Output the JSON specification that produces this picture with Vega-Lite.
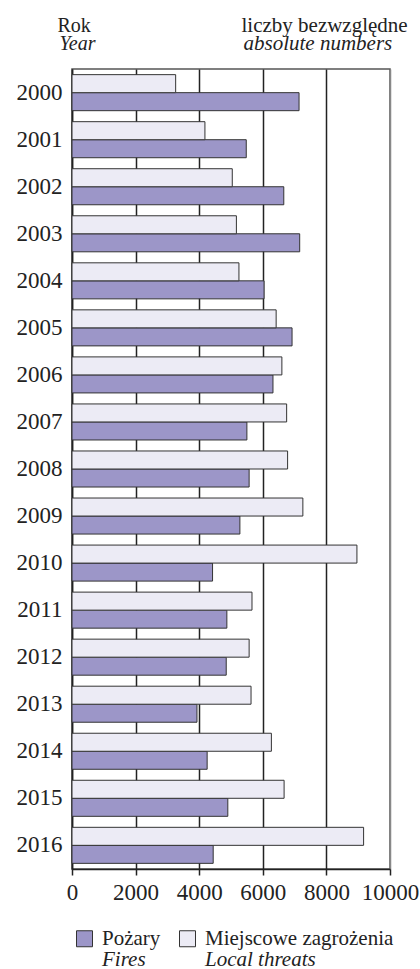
{
  "$schema": "https://vega.github.io/schema/vega-lite/v6.json",
  "width": 318,
  "height": 800,
  "autosize": {"type": "none"},
  "padding": {"left": 72, "top": 69, "right": 30, "bottom": 100},
  "background": "white",
  "config": {
    "font": "Liberation Serif, Times New Roman, serif",
    "axis": {"labelFont": "Liberation Serif, Times New Roman, serif", "titleFont": "Liberation Serif, Times New Roman, serif"},
    "legend": {"labelFont": "Liberation Serif, Times New Roman, serif", "titleFont": "Liberation Serif, Times New Roman, serif"},
    "view": {"stroke": "#555", "strokeWidth": 1.5}
  },
  "data": {
    "values": [
      {"Rok": "2000", "Rodzaj": "Pożary", "Liczba": 7140},
      {"Rok": "2000", "Rodzaj": "Miejscowe zagrożenia", "Liczba": 3260},
      {"Rok": "2001", "Rodzaj": "Pożary", "Liczba": 5480},
      {"Rok": "2001", "Rodzaj": "Miejscowe zagrożenia", "Liczba": 4180},
      {"Rok": "2002", "Rodzaj": "Pożary", "Liczba": 6660},
      {"Rok": "2002", "Rodzaj": "Miejscowe zagrożenia", "Liczba": 5040},
      {"Rok": "2003", "Rodzaj": "Pożary", "Liczba": 7160},
      {"Rok": "2003", "Rodzaj": "Miejscowe zagrożenia", "Liczba": 5170},
      {"Rok": "2004", "Rodzaj": "Pożary", "Liczba": 6040},
      {"Rok": "2004", "Rodzaj": "Miejscowe zagrożenia", "Liczba": 5250},
      {"Rok": "2005", "Rodzaj": "Pożary", "Liczba": 6920},
      {"Rok": "2005", "Rodzaj": "Miejscowe zagrożenia", "Liczba": 6420},
      {"Rok": "2006", "Rodzaj": "Pożary", "Liczba": 6320},
      {"Rok": "2006", "Rodzaj": "Miejscowe zagrożenia", "Liczba": 6600},
      {"Rok": "2007", "Rodzaj": "Pożary", "Liczba": 5500},
      {"Rok": "2007", "Rodzaj": "Miejscowe zagrożenia", "Liczba": 6750},
      {"Rok": "2008", "Rodzaj": "Pożary", "Liczba": 5570},
      {"Rok": "2008", "Rodzaj": "Miejscowe zagrożenia", "Liczba": 6780},
      {"Rok": "2009", "Rodzaj": "Pożary", "Liczba": 5280},
      {"Rok": "2009", "Rodzaj": "Miejscowe zagrożenia", "Liczba": 7260},
      {"Rok": "2010", "Rodzaj": "Pożary", "Liczba": 4420},
      {"Rok": "2010", "Rodzaj": "Miejscowe zagrożenia", "Liczba": 8960},
      {"Rok": "2011", "Rodzaj": "Pożary", "Liczba": 4870},
      {"Rok": "2011", "Rodzaj": "Miejscowe zagrożenia", "Liczba": 5660},
      {"Rok": "2012", "Rodzaj": "Pożary", "Liczba": 4850},
      {"Rok": "2012", "Rodzaj": "Miejscowe zagrożenia", "Liczba": 5570},
      {"Rok": "2013", "Rodzaj": "Pożary", "Liczba": 3930},
      {"Rok": "2013", "Rodzaj": "Miejscowe zagrożenia", "Liczba": 5630},
      {"Rok": "2014", "Rodzaj": "Pożary", "Liczba": 4250},
      {"Rok": "2014", "Rodzaj": "Miejscowe zagrożenia", "Liczba": 6270},
      {"Rok": "2015", "Rodzaj": "Pożary", "Liczba": 4900},
      {"Rok": "2015", "Rodzaj": "Miejscowe zagrożenia", "Liczba": 6670},
      {"Rok": "2016", "Rodzaj": "Pożary", "Liczba": 4440},
      {"Rok": "2016", "Rodzaj": "Miejscowe zagrożenia", "Liczba": 9170}
    ]
  },
  "resolve": {"axis": {"x": "independent", "y": "independent"}},
  "layer": [
    {
      "mark": {"type": "bar", "stroke": "#333", "strokeWidth": 1},
      "encoding": {
        "y": {
          "field": "Rok",
          "type": "nominal",
          "scale": {"paddingInner": 0.234, "paddingOuter": 0.12},
          "axis": {
            "orient": "left",
            "title": "Rok",
            "titleAngle": 0,
            "titleAlign": "left",
            "titleBaseline": "alphabetic",
            "titleAnchor": null,
            "titleX": -15,
            "titleY": -38,
            "titleFontSize": 20,
            "titleFontWeight": "normal",
            "titleColor": "#222",
            "labelFontSize": 23,
            "labelColor": "#222",
            "labelPadding": 10,
            "ticks": false,
            "domainColor": "#222",
            "domainWidth": 1.5
          }
        },
        "yOffset": {"field": "Rodzaj", "type": "nominal", "sort": ["Miejscowe zagrożenia", "Pożary"]},
        "x": {
          "field": "Liczba",
          "type": "quantitative",
          "scale": {"domain": [0, 10000], "nice": false},
          "axis": {
            "orient": "bottom",
            "values": [0, 2000, 4000, 6000, 8000, 10000],
            "format": "d",
            "title": "Year",
            "titleFontStyle": "italic",
            "titleFontSize": 20,
            "titleFontWeight": "normal",
            "titleColor": "#222",
            "titleAlign": "left",
            "titleBaseline": "alphabetic",
            "titleAnchor": null,
            "titleAngle": 0,
            "titleX": -13,
            "titleY": -820,
            "grid": true,
            "gridColor": {"condition": {"test": "datum.value === 10000", "value": "#888"}, "value": "#222"},
            "gridWidth": 1.5,
            "gridOpacity": 1,
            "tickSize": 6,
            "tickColor": "#222",
            "tickWidth": 1.5,
            "domainColor": "#222",
            "domainWidth": 1.5,
            "labelFontSize": 23,
            "labelColor": "#222",
            "labelPadding": 6,
            "labelFlush": false
          }
        },
        "color": {
          "field": "Rodzaj",
          "type": "nominal",
          "scale": {
            "domain": ["Pożary", "Miejscowe zagrożenia", "Fires", "Local threats"],
            "range": ["#9c96c8", "#ecebf5", "#ffffff", "#ffffff"]
          },
          "legend": {
            "orient": "none",
            "legendX": 2,
            "legendY": 859,
            "direction": "horizontal",
            "columns": 2,
            "title": null,
            "padding": 0,
            "symbolType": "square",
            "symbolSize": 256,
            "symbolStrokeColor": "#333",
            "symbolStrokeWidth": 1,
            "labelFontSize": 21,
            "labelColor": "#222",
            "labelOffset": 7,
            "labelLimit": 300,
            "columnPadding": 16,
            "rowPadding": -3,
            "labelFontStyle": {"expr": "indexof(['Fires','Local threats'], datum.value) >= 0 ? 'italic' : 'normal'"},
            "symbolOpacity": {"expr": "indexof(['Fires','Local threats'], datum.value) >= 0 ? 0 : 1"}
          }
        }
      }
    },
    {
      "mark": {"type": "rule", "opacity": 0},
      "encoding": {
        "x": {
          "field": "Liczba",
          "type": "quantitative",
          "scale": {"domain": [0, 10000], "nice": false},
          "axis": {
            "orient": "top",
            "labels": false,
            "ticks": false,
            "domain": false,
            "grid": false,
            "title": "liczby bezwzględne",
            "titleFontSize": 21,
            "titleFontWeight": "normal",
            "titleColor": "#222",
            "titleAlign": "left",
            "titleBaseline": "alphabetic",
            "titleAnchor": null,
            "titleAngle": 0,
            "titleX": 169,
            "titleY": -38
          }
        },
        "y": {
          "field": "Rok",
          "type": "nominal",
          "axis": {
            "orient": "right",
            "labels": false,
            "ticks": false,
            "domain": false,
            "grid": false,
            "title": "absolute numbers",
            "titleFontStyle": "italic",
            "titleFontSize": 21,
            "titleFontWeight": "normal",
            "titleColor": "#222",
            "titleAngle": 0,
            "titleAlign": "left",
            "titleBaseline": "alphabetic",
            "titleAnchor": null,
            "titleX": -147,
            "titleY": -20
          }
        }
      }
    }
  ]
}
